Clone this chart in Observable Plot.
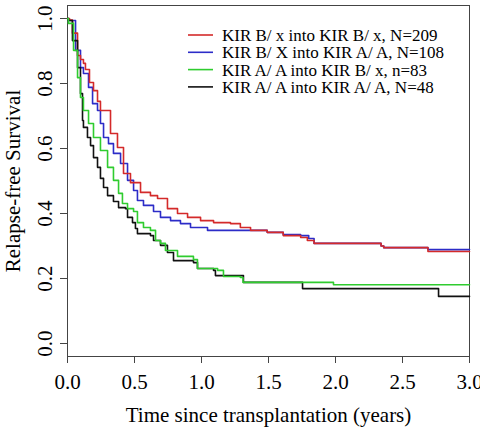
<!DOCTYPE html>
<html><head><meta charset="utf-8">
<script src="https://cdn.jsdelivr.net/npm/d3@7"></script>
<script src="https://cdn.jsdelivr.net/npm/@observablehq/plot@0.6"></script>
<style>
body{margin:0;background:#fff}
svg{font-family:"Liberation Serif","Times New Roman",serif}
</style>
</head><body><div id="chart"></div>
<script>
// Series names and colours
const seriesNames = [
  "KIR B/ x into KIR B/ x, N=209",
  "KIR B/ X into KIR A/ A, N=108",
  "KIR A/ A into KIR B/ x, n=83",
  "KIR A/ A into KIR A/ A, N=48"
];
const seriesColors = ["#d42a2a", "#2c2cc8", "#2fcc2f", "#111111"];

// Kaplan-Meier steps (time in years, relapse-free survival)
const bxbxTime = [0, 0.015, 0.037, 0.075, 0.097, 0.119, 0.134, 0.164, 0.194, 0.224, 0.246, 0.321, 0.373, 0.418, 0.47, 0.545, 0.619, 0.672, 0.746, 0.821, 0.896, 0.993, 1.09, 1.216, 1.29, 1.366, 1.49, 1.61, 1.74, 1.79, 1.84, 2.34, 2.36, 2.69, 3.0];
const bxbxSurv = [1.0, 0.995, 0.955, 0.886, 0.874, 0.862, 0.843, 0.803, 0.778, 0.745, 0.717, 0.646, 0.603, 0.523, 0.495, 0.465, 0.455, 0.446, 0.415, 0.400, 0.388, 0.378, 0.372, 0.369, 0.357, 0.348, 0.342, 0.332, 0.326, 0.317, 0.308, 0.300, 0.295, 0.283, 0.283];

const bxaaTime = [0, 0.007, 0.06, 0.097, 0.119, 0.157, 0.187, 0.224, 0.246, 0.269, 0.306, 0.343, 0.396, 0.448, 0.493, 0.522, 0.567, 0.642, 0.694, 0.769, 0.843, 0.918, 1.045, 1.49, 1.61, 1.74, 1.80, 1.84, 2.34, 2.36, 2.69, 3.0];
const bxaaSurv = [1.0, 0.994, 0.902, 0.849, 0.831, 0.788, 0.738, 0.717, 0.677, 0.634, 0.615, 0.585, 0.554, 0.502, 0.471, 0.440, 0.425, 0.406, 0.388, 0.378, 0.369, 0.357, 0.348, 0.342, 0.335, 0.332, 0.323, 0.308, 0.300, 0.295, 0.289, 0.289];

const aabxTime = [0, 0.007, 0.045, 0.075, 0.097, 0.119, 0.157, 0.194, 0.246, 0.299, 0.343, 0.381, 0.41, 0.448, 0.493, 0.522, 0.567, 0.619, 0.657, 0.694, 0.731, 0.821, 0.94, 0.97, 1.12, 1.164, 1.29, 1.31, 1.985, 3.0];
const aabxSurv = [1.0, 0.985, 0.902, 0.818, 0.757, 0.717, 0.677, 0.634, 0.594, 0.542, 0.502, 0.462, 0.431, 0.415, 0.406, 0.372, 0.357, 0.348, 0.317, 0.308, 0.286, 0.268, 0.258, 0.231, 0.225, 0.206, 0.203, 0.188, 0.181, 0.181];

const aaaaTime = [0, 0.007, 0.037, 0.075, 0.097, 0.112, 0.119, 0.149, 0.172, 0.194, 0.224, 0.246, 0.269, 0.299, 0.343, 0.381, 0.433, 0.448, 0.485, 0.507, 0.522, 0.619, 0.642, 0.694, 0.746, 0.791, 0.94, 0.97, 1.09, 1.104, 1.306, 1.313, 1.754, 2.769, 3.0];
const aaaaSurv = [1.0, 0.994, 0.932, 0.849, 0.769, 0.686, 0.665, 0.634, 0.609, 0.572, 0.542, 0.508, 0.480, 0.455, 0.437, 0.418, 0.415, 0.388, 0.372, 0.354, 0.338, 0.332, 0.317, 0.302, 0.280, 0.255, 0.249, 0.231, 0.225, 0.209, 0.209, 0.188, 0.169, 0.145, 0.145];

// Axis ticks and titles
const xTicks = [0, 0.5, 1.0, 1.5, 2.0, 2.5, 3.0];
const yTicks = [0, 0.2, 0.4, 0.6, 0.8, 1.0];
const xTitle = "Time since transplantation (years)";
const yTitle = "Relapse-free Survival";

const toRows = (name, times, surv) => times.map((t, i) => ({series: name, time: t, surv: surv[i]}));
const seriesData = [
  toRows(seriesNames[1], bxaaTime, bxaaSurv),
  toRows(seriesNames[0], bxbxTime, bxbxSurv),
  toRows(seriesNames[3], aaaaTime, aaaaSurv),
  toRows(seriesNames[2], aabxTime, aabxSurv)
];
const fmt = d3.format(".1f");

const chart = Plot.plot({
  width: 480,
  height: 427,
  marginLeft: 67,
  marginRight: 11,
  marginTop: 5,
  marginBottom: 71,
  style: {fontFamily: '"Liberation Serif", serif', fontSize: "21px", color: "#000", background: "#fff", overflow: "visible"},
  x: {domain: [0, 3]},
  y: {domain: [-0.04, 1.04]},
  color: {domain: seriesNames, range: seriesColors},
  marks: [
    Plot.frame({stroke: "#444", strokeWidth: 1}),
    Plot.axisX({ticks: xTicks, tickFormat: fmt, tickSize: 7, tickPadding: 11, fontSize: 21, stroke: "#444", label: null}),
    Plot.axisY({ticks: yTicks, tickSize: 7, tickFormat: () => "", stroke: "#444", label: null}),
    Plot.text(yTicks, {y: d => d, text: d => fmt(d), frameAnchor: "left", dx: -22, rotate: -90, textAnchor: "middle", lineAnchor: "middle", fontSize: 21, fill: "#000"}),
    Plot.text([yTitle], {text: d => d, frameAnchor: "left", dx: -54, rotate: -90, textAnchor: "middle", lineAnchor: "middle", fontSize: 21, fill: "#000"}),
    Plot.text([xTitle], {text: d => d, frameAnchor: "bottom", dy: 59, textAnchor: "middle", lineAnchor: "middle", fontSize: 21, fill: "#000"}),
    ...seriesData.map(rows => Plot.line(rows, {x: "time", y: "surv", stroke: "series", curve: "step-after", strokeWidth: 1.6}))
  ]
});
document.getElementById("chart").appendChild(chart);

// Legend (top right, inside the plot region)
const svg = d3.select(chart);
const lg = svg.append("g").attr("font-size", 17).attr("font-family", '"Liberation Serif", serif').attr("text-anchor", "start");
seriesNames.forEach((name, i) => {
  const y = 35 + i * 17.3;
  lg.append("line").attr("x1", 188).attr("x2", 213).attr("y1", y).attr("y2", y)
    .attr("stroke", seriesColors[i]).attr("stroke-width", 1.6);
  lg.append("text").attr("x", 222).attr("y", y).attr("dy", "0.35em").attr("fill", "#000").text(name);
});
</script>
</body></html>
